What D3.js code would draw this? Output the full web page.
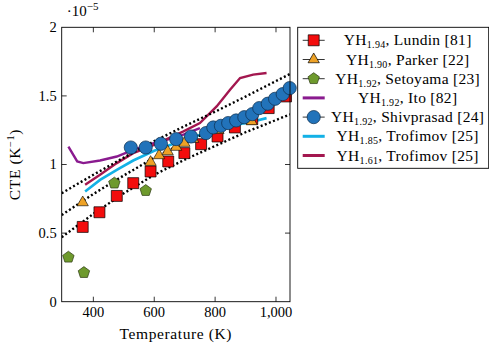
<!DOCTYPE html>
<html>
<head>
<meta charset="utf-8">
<script src="https://cdn.jsdelivr.net/npm/d3@7"></script>
<style>
  body { margin: 0; background: #fff; }
  text { font-family: "Liberation Serif", "DejaVu Serif", serif; fill: #000; }
</style>
</head>
<body>
<div id="chart"></div>
<script>
// temperatures (K) and CTE (x1e-5 1/K)
var lundinT = [365, 420, 477, 531, 588, 646, 699, 754, 808, 865, 922, 976, 1033];
var lundinV = [0.545, 0.652, 0.771, 0.864, 0.949, 1.022, 1.083, 1.148, 1.204, 1.27, 1.331, 1.411, 1.496];

var parkerT = [365, 588, 616, 644, 672, 699, 728, 811, 920];
var parkerV = [0.723, 1.017, 1.066, 1.095, 1.127, 1.156, 1.185, 1.25, 1.314];

var setoyamaT = [318, 369, 469, 572];
var setoyamaV = [0.324, 0.212, 0.864, 0.81];

var itoT = [318, 347, 367, 422, 477, 531, 586, 641, 696, 750];
var itoV = [1.131, 1.022, 1.01, 1.029, 1.058, 1.107, 1.148, 1.18, 1.217, 1.265];

var shivT = [523, 572, 622, 672, 721, 770, 794, 819, 843, 869, 896, 922, 945, 973, 997, 1022, 1045];
var shivV = [1.124, 1.124, 1.151, 1.185, 1.204, 1.229, 1.27, 1.282, 1.302, 1.321, 1.345, 1.367, 1.411, 1.443, 1.479, 1.513, 1.557];

var trof185T = [373, 422, 477, 531, 600, 700, 805, 860, 925, 969];
var trof185V = [0.803, 0.888, 0.961, 1.029, 1.1, 1.18, 1.253, 1.285, 1.314, 1.338];

var trof161T = [373, 422, 477, 531, 586, 641, 696, 750, 805, 849, 882, 925, 969];
var trof161V = [0.852, 0.925, 1.01, 1.083, 1.131, 1.185, 1.241, 1.302, 1.423, 1.545, 1.63, 1.655, 1.667];

var bandT = [296, 400, 500, 600, 700, 800, 900, 1046];
var bandUpper = [0.791, 0.925, 1.05, 1.17, 1.28, 1.385, 1.495, 1.66];
var bandMid = [0.632, 0.785, 0.92, 1.05, 1.16, 1.262, 1.366, 1.51];
var bandLower = [0.47, 0.64, 0.79, 0.925, 1.035, 1.135, 1.235, 1.365];

var xTicks = [400, 600, 800, 1000];
var yTicks = [0, 0.5, 1, 1.5, 2];

var legendLabels = [
  ["1.94", ", Lundin [81]"],
  ["1.90", ", Parker [22]"],
  ["1.92", ", Setoyama [23]"],
  ["1.92", ", Ito [82]"],
  ["1.92", ", Shivprasad [24]"],
  ["1.85", ", Trofimov [25]"],
  ["1.61", ", Trofimov [25]"]
];

var margin = {top: 27.3, right: 199, bottom: 42.3, left: 61.7},
    width = 489 - margin.left - margin.right,
    height = 344 - margin.top - margin.bottom;

var svg = d3.select("#chart")
    .append("svg")
        .attr("width", 489)
        .attr("height", 344)
    .append("g")
        .attr("transform", "translate(" + margin.left + "," + margin.top + ")");

var x = d3.scaleLinear().domain([296, 1046]).range([0, width]);
var y = d3.scaleLinear().domain([0, 2]).range([height, 0]);

var zip = (a, b) => a.map((t, i) => [t, b[i]]);

// inward ticks on all four sides
var tickLen = 5;
svg.selectAll(".xt").data(xTicks).enter().append("path")
    .attr("d", d => "M" + x(d) + "," + height + "v" + (-tickLen) + "M" + x(d) + ",0v" + tickLen)
    .attr("stroke", "#000").attr("stroke-width", 0.8);
svg.selectAll(".yt").data(yTicks.slice(1, -1)).enter().append("path")
    .attr("d", d => "M0," + y(d) + "h" + tickLen + "M" + width + "," + y(d) + "h" + (-tickLen))
    .attr("stroke", "#000").attr("stroke-width", 0.8);

svg.selectAll(".xl").data(xTicks).enter().append("text")
    .attr("x", d => x(d))
    .attr("y", height + 15.5)
    .attr("text-anchor", "middle")
    .style("font-size", "14.5px")
    .text(d => d3.format(",")(d));

svg.selectAll(".yl").data(yTicks).enter().append("text")
    .attr("x", -5)
    .attr("y", d => y(d) + 5)
    .attr("text-anchor", "end")
    .style("font-size", "14.5px")
    .text(d => d);

svg.append("text")
    .attr("x", 5)
    .attr("y", -11.5)
    .style("font-size", "15px")
    .html("·10<tspan dy='-6' font-size='11px'>−5</tspan>");

svg.append("text")
    .attr("text-anchor", "middle")
    .attr("x", width / 2)
    .attr("y", height + 37)
    .style("font-size", "15.5px")
    .style("letter-spacing", "0.6px")
    .text("Temperature (K)");

svg.append("text")
    .attr("text-anchor", "middle")
    .attr("transform", "translate(-42," + (height / 2) + ") rotate(-90)")
    .style("font-size", "15.5px")
    .style("letter-spacing", "0.6px")
    .html("CTE (K<tspan dy='-6' font-size='10.5px'>−1</tspan><tspan dy='6'>)</tspan>");

var line = d3.line().x(d => x(d[0])).y(d => y(d[1]));

svg.append("defs").append("clipPath").attr("id", "clip")
    .append("rect").attr("width", width).attr("height", height);
var plot = svg.append("g").attr("clip-path", "url(#clip)");

plot.append("path").datum(zip(itoT, itoV))
    .attr("d", line).attr("fill", "none").attr("stroke", "#8a1b8f").attr("stroke-width", 2.4);
plot.append("path").datum(zip(trof185T, trof185V))
    .attr("d", line).attr("fill", "none").attr("stroke", "#13b1e6").attr("stroke-width", 2.6);
plot.append("path").datum(zip(trof161T, trof161V))
    .attr("d", line).attr("fill", "none").attr("stroke", "#a3174f").attr("stroke-width", 2.4);

[bandUpper, bandMid, bandLower].forEach(function(b) {
    plot.append("path").datum(zip(bandT, b))
        .attr("d", line).attr("fill", "none")
        .attr("stroke", "#000").attr("stroke-width", 2.4)
        .attr("stroke-dasharray", "2,2.4");
});

// marker shapes
var sq = d3.symbol().type(d3.symbolSquare).size(120);
var tri = d3.symbol().type(d3.symbolTriangle).size(55);
var pent = function(r) {
    var p = [];
    for (var i = 0; i < 5; i++) {
        var a = -Math.PI / 2 + i * 2 * Math.PI / 5;
        p.push([r * Math.cos(a), r * Math.sin(a)]);
    }
    return "M" + p.join("L") + "Z";
};

svg.selectAll(".lundin").data(zip(lundinT, lundinV)).enter().append("path")
    .attr("d", sq)
    .attr("transform", d => "translate(" + x(d[0]) + "," + y(d[1]) + ")")
    .attr("fill", "#f30d0d").attr("stroke", "#000").attr("stroke-width", 0.7);

svg.selectAll(".parker").data(zip(parkerT, parkerV)).enter().append("path")
    .attr("d", tri)
    .attr("transform", d => "translate(" + x(d[0]) + "," + y(d[1]) + ")")
    .attr("fill", "#eea226").attr("stroke", "#000").attr("stroke-width", 0.6);

svg.selectAll(".seto").data(zip(setoyamaT, setoyamaV)).enter().append("path")
    .attr("d", pent(6))
    .attr("transform", d => "translate(" + x(d[0]) + "," + y(d[1]) + ")")
    .attr("fill", "#6e9a2d").attr("stroke", "#2d3a12").attr("stroke-width", 0.7);

svg.selectAll(".shiv").data(zip(shivT, shivV)).enter().append("circle")
    .attr("r", 6.6)
    .attr("cx", d => x(d[0]))
    .attr("cy", d => y(d[1]))
    .attr("fill", "#2273ba").attr("stroke", "#0d2c4a").attr("stroke-width", 0.7);

svg.append("rect")
    .attr("width", width).attr("height", height)
    .attr("fill", "none").attr("stroke", "#000").attr("stroke-width", 0.9);

// legend
var leg = d3.select("svg").append("g").attr("transform", "translate(297.7,27.3)");
leg.append("rect")
    .attr("width", 191).attr("height", 141)
    .attr("fill", "#fff").attr("stroke", "#000").attr("stroke-width", 0.9);

legendLabels.forEach(function(lab, i) {
    var cy = 13 + i * 19.2;
    var g = leg.append("g").attr("transform", "translate(0," + cy + ")");
    if (i === 3 || i === 5 || i === 6) {
        var col = i === 3 ? "#8a1b8f" : (i === 5 ? "#13b1e6" : "#a3174f");
        g.append("line").attr("x1", 5).attr("x2", 27).attr("stroke", col).attr("stroke-width", 3);
    } else {
        g.append("line").attr("x1", 5).attr("x2", 27).attr("stroke", "#000").attr("stroke-width", 0.8);
        var m = g.append("path").attr("transform", "translate(16,0)").attr("stroke-width", 0.7);
        if (i === 0) m.attr("d", sq).attr("fill", "#f30d0d").attr("stroke", "#000");
        if (i === 1) m.attr("d", tri).attr("fill", "#eea226").attr("stroke", "#000");
        if (i === 2) m.attr("d", pent(6)).attr("fill", "#6e9a2d").attr("stroke", "#2d3a12");
        if (i === 4) m.attr("d", d3.symbol().type(d3.symbolCircle).size(137)).attr("fill", "#2273ba").attr("stroke", "#0d2c4a");
    }
    g.append("text")
        .attr("x", 110).attr("y", 5)
        .attr("text-anchor", "middle")
        .style("font-size", "15.5px")
        .style("letter-spacing", "0.3px")
        .html("YH<tspan dy='3' font-size='10px'>" + lab[0] + "</tspan><tspan dy='-3'>" + lab[1] + "</tspan>");
});
</script>
</body>
</html>
